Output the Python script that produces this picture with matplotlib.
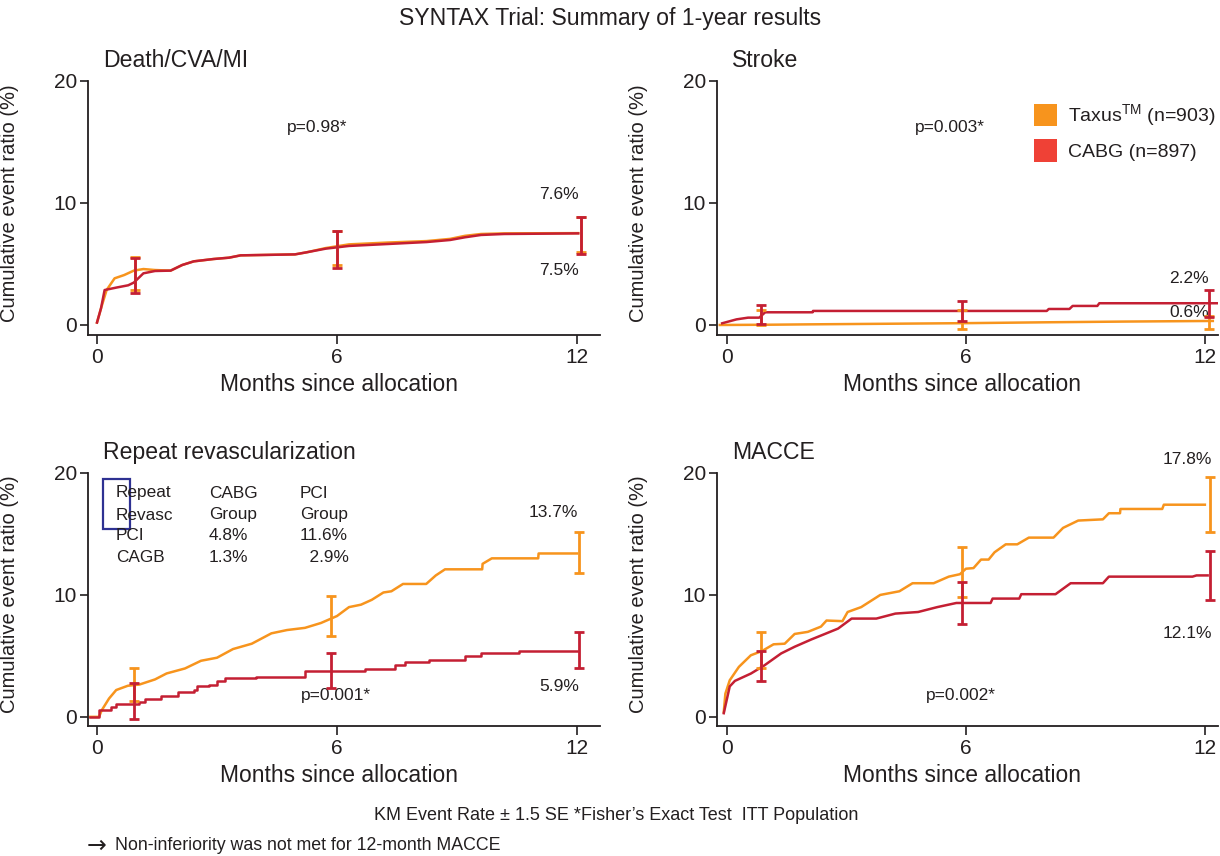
import numpy as np
import matplotlib
matplotlib.use("Agg")
from matplotlib import pyplot as plt
from matplotlib.patches import Patch, Rectangle

plt.rcParams['font.family'] = ['Liberation Sans', 'DejaVu Sans']

ORANGE = '#F7941D'
RED = '#C41F33'
RED_PATCH = '#EF4136'
TXT = '#231F20'

# ---- data ----
death_t_taxus = [0, 0.1, 0.24, 0.44, 0.68, 0.92, 1.16, 1.45, 1.84, 2.13, 2.42, 2.91, 3.3, 3.59, 4.95, 5.24, 5.72, 6.3, 7.27, 8.24, 8.83, 9.2, 9.6, 10.18, 12.03]
death_taxus = [0.2, 1.36, 2.86, 3.82, 4.09, 4.45, 4.58, 4.5, 4.45, 4.91, 5.21, 5.4, 5.51, 5.7, 5.78, 5.95, 6.3, 6.6, 6.75, 6.87, 7.05, 7.3, 7.45, 7.5, 7.52]
death_t_cabg = [0, 0.1, 0.19, 0.48, 0.78, 0.92, 1.16, 1.45, 1.84, 2.13, 2.42, 2.91, 3.3, 3.59, 4.95, 5.24, 5.72, 6.3, 7.27, 8.24, 8.83, 9.2, 9.6, 10.18, 12.03]
death_cabg = [0.2, 1.36, 2.86, 3.06, 3.25, 3.47, 4.23, 4.42, 4.45, 4.91, 5.21, 5.4, 5.51, 5.7, 5.78, 5.95, 6.25, 6.47, 6.63, 6.79, 6.96, 7.18, 7.37, 7.45, 7.5]

stroke_t_taxus = [-0.18, 1, 2, 4, 6, 8, 10, 12.2]
stroke_taxus = [0, 0.02, 0.05, 0.1, 0.15, 0.22, 0.28, 0.33]
stroke_t_cabg = [-0.12, 0.24, 0.53, 0.81, 0.96, 2.15, 2.16, 8.03, 8.08, 8.6, 8.68, 9.3, 9.35, 12.3]
stroke_cabg = [0.14, 0.46, 0.6, 0.6, 1.04, 1.04, 1.15, 1.15, 1.31, 1.31, 1.56, 1.56, 1.78, 1.78]

revasc_t_taxus = [-0.18, 0.05, 0.12, 0.3, 0.48, 0.77, 1.06, 1.45, 1.74, 2.2, 2.6, 3.0, 3.4, 3.87, 4.36, 4.75, 5.2, 5.6, 6.0, 6.3, 6.6, 6.87, 7.16, 7.36, 7.65, 8.23, 8.47, 8.7, 9.63, 9.64, 9.87, 11.03, 11.04, 12.0]
revasc_taxus = [0, 0, 0.55, 1.5, 2.2, 2.55, 2.65, 3.07, 3.56, 3.97, 4.6, 4.85, 5.56, 6.0, 6.85, 7.12, 7.3, 7.7, 8.27, 9.0, 9.2, 9.6, 10.2, 10.3, 10.9, 10.9, 11.6, 12.1, 12.1, 12.55, 13.0, 13.0, 13.4, 13.4]
revasc_t_cabg = [-0.18, 0.05, 0.34, 0.48, 1.06, 1.2, 1.6, 2.03, 2.42, 2.5, 2.8, 3.0, 3.2, 3.97, 5.2, 6.7, 7.45, 7.7, 8.3, 9.2, 9.6, 10.55, 12.0]
revasc_cabg = [0, 0.55, 0.8, 1.04, 1.23, 1.5, 1.7, 2.0, 2.2, 2.5, 2.65, 2.9, 3.15, 3.3, 3.78, 3.95, 4.25, 4.5, 4.7, 4.98, 5.2, 5.4, 5.4]

macce_t_taxus = [-0.08, -0.04, 0.07, 0.3, 0.6, 0.88, 1.17, 1.45, 1.7, 2.03, 2.36, 2.5, 2.9, 3.03, 3.37, 3.85, 4.33, 4.66, 5.19, 5.57, 5.85, 6.0, 6.19, 6.38, 6.57, 6.72, 7.0, 7.29, 7.58, 8.2, 8.44, 8.82, 9.44, 9.59, 9.87, 9.88, 10.93, 10.97, 12.0]
macce_taxus = [0.4, 1.9, 3.0, 4.1, 5.05, 5.4, 5.95, 6.0, 6.8, 6.97, 7.4, 7.9, 7.85, 8.6, 9.0, 10.0, 10.3, 10.96, 10.96, 11.5, 11.7, 12.15, 12.2, 12.9, 12.9, 13.5, 14.15, 14.15, 14.7, 14.7, 15.5, 16.1, 16.2, 16.7, 16.7, 17.05, 17.05, 17.4, 17.4]
macce_t_cabg = [-0.08, 0.07, 0.2, 0.6, 0.93, 1.36, 1.7, 2.12, 2.46, 2.79, 3.13, 3.75, 4.23, 4.8, 5.28, 5.76, 6.62, 6.67, 7.34, 7.39, 8.25, 8.63, 9.44, 9.59, 11.69, 11.79, 12.07]
macce_cabg = [0.3, 2.5, 2.95, 3.55, 4.2, 5.2, 5.75, 6.35, 6.8, 7.24, 8.06, 8.06, 8.47, 8.6, 9.0, 9.34, 9.34, 9.7, 9.7, 10.06, 10.06, 10.96, 10.96, 11.5, 11.5, 11.6, 11.6]

# error bars: x position, low, high (KM +- 1.5 SE)
death_err_x = [0.95, 6.0, 12.1]
death_err_taxus = ([2.9, 4.9, 6.0], [5.6, 7.7, 8.8])
death_err_cabg = ([2.6, 4.7, 5.8], [5.5, 7.7, 8.8])
stroke_err_x = [0.86, 5.9, 12.1]
stroke_err_taxus = ([0.0, -0.36, -0.36], [1.2, 1.23, 0.7])
stroke_err_cabg = ([0.1, 0.36, 0.63], [1.65, 1.97, 2.87])
revasc_err_x = [0.92, 5.86, 12.05]
revasc_err_taxus = ([1.3, 6.6, 11.8], [4.0, 9.95, 15.2])
revasc_err_cabg = ([-0.2, 2.4, 4.0], [2.8, 5.2, 7.0])
macce_err_x = [0.86, 5.9, 12.13]
macce_err_taxus = ([4.0, 9.85, 15.2], [7.0, 13.9, 19.67])
macce_err_cabg = ([2.95, 7.65, 9.56], [5.4, 11.07, 13.6])

panel_titles = ['Death/CVA/MI', 'Stroke', 'Repeat revascularization', 'MACCE']
p_values = ['p=0.98*', 'p=0.003*', 'p=0.001*', 'p=0.002*']
end_labels_taxus = ['7.6%', '0.6%', '13.7%', '17.8%']
end_labels_cabg = ['7.5%', '2.2%', '5.9%', '12.1%']
legend_labels = ['Taxus$^{\\mathregular{TM}}$ (n=903)', 'CABG (n=897)']
table_rows = [['Repeat', 'CABG', 'PCI'],
              ['Revasc', 'Group', 'Group'],
              ['PCI', '4.8%', '11.6%'],
              ['CAGB', '1.3%', '  2.9%']]

W, H = 1220, 856
fig = plt.figure(figsize=(W / 100, H / 100), dpi=100)


def make_ax(left, right, top, bottom, xlim, ylim):
    ax = fig.add_axes([left / W, 1 - bottom / H, (right - left) / W, (bottom - top) / H])
    ax.set_xlim(*xlim)
    ax.set_ylim(*ylim)
    for s in ['top', 'right']:
        ax.spines[s].set_visible(False)
    for s in ['left', 'bottom']:
        ax.spines[s].set_linewidth(1.3)
        ax.spines[s].set_color(TXT)
    ax.set_xticks([0, 6, 12])
    ax.set_yticks([0, 10, 20])
    ax.tick_params(axis='y', length=6, width=1.2, pad=2, labelsize=15, colors=TXT)
    ax.tick_params(axis='x', length=6.5, width=1.2, pad=3, labelsize=15, colors=TXT)
    ax.set_xlabel('Months since allocation', fontsize=16.5, color=TXT)
    ax.set_ylabel('Cumulative event ratio (%)', fontsize=14.5, color=TXT)
    wpx = right - left
    hpx = bottom - top
    ax.xaxis.set_label_coords(0.49, -38 / hpx)
    ax.yaxis.set_label_coords(-69 / wpx, 0.52)
    return ax


ax1 = make_ax(88, 600, 80.7, 335, (-0.225, 12.575), (-0.82, 20))
ax2 = make_ax(717, 1218, 80.7, 335, (-0.25, 12.33), (-0.82, 20))
ax3 = make_ax(88, 600, 473, 726, (-0.225, 12.575), (-0.75, 20))
ax4 = make_ax(717, 1218, 473, 726, (-0.25, 12.33), (-0.75, 20))
axes = [ax1, ax2, ax3, ax4]


def draw_err(ax, x, lohi, color):
    lo = np.array(lohi[0])
    hi = np.array(lohi[1])
    ax.errorbar(x, (lo + hi) / 2, yerr=(hi - lo) / 2, fmt='none', ecolor=color,
                elinewidth=2, capsize=3.5, capthick=2, zorder=4)


lw = 1.8
ax1.plot(death_t_taxus, death_taxus, color=ORANGE, lw=lw, zorder=2)
ax1.plot(death_t_cabg, death_cabg, color=RED, lw=lw, zorder=3)
draw_err(ax1, death_err_x, death_err_taxus, ORANGE)
draw_err(ax1, death_err_x, death_err_cabg, RED)

ax2.plot(stroke_t_taxus, stroke_taxus, color=ORANGE, lw=lw, zorder=2)
ax2.plot(stroke_t_cabg, stroke_cabg, color=RED, lw=lw, zorder=3)
draw_err(ax2, stroke_err_x, stroke_err_taxus, ORANGE)
draw_err(ax2, stroke_err_x, stroke_err_cabg, RED)

ax3.plot(revasc_t_taxus, revasc_taxus, color=ORANGE, lw=lw, zorder=2)
ax3.step(revasc_t_cabg, revasc_cabg, where='post', color=RED, lw=lw, zorder=3)
draw_err(ax3, revasc_err_x, revasc_err_taxus, ORANGE)
draw_err(ax3, revasc_err_x, revasc_err_cabg, RED)

ax4.plot(macce_t_taxus, macce_taxus, color=ORANGE, lw=lw, zorder=2)
ax4.plot(macce_t_cabg, macce_cabg, color=RED, lw=lw, zorder=3)
draw_err(ax4, macce_err_x, macce_err_taxus, ORANGE)
draw_err(ax4, macce_err_x, macce_err_cabg, RED)

# panel titles
for ax, t, wpx in zip(axes, panel_titles, [512, 501, 512, 501]):
    ax.text(15 / wpx, 1.08, t, transform=ax.transAxes, fontsize=16.6, color=TXT,
            ha='left', va='center')

# p values and end labels (data coords)
p_pos = [(5.5, 16.2), (5.6, 16.2), (5.98, 1.75), (5.87, 1.75)]
tax_pos = [(11.55, 10.7), (11.6, 1.0), (11.4, 16.8), (11.55, 21.1)]
cabg_pos = [(11.55, 4.5), (11.6, 3.8), (11.55, 2.5), (11.55, 6.8)]
for i, ax in enumerate(axes):
    ax.text(p_pos[i][0], p_pos[i][1], p_values[i], fontsize=12.5, color=TXT, ha='center', va='center')
    ax.text(tax_pos[i][0], tax_pos[i][1], end_labels_taxus[i], fontsize=12.5, color=TXT, ha='center', va='center')
    ax.text(cabg_pos[i][0], cabg_pos[i][1], end_labels_cabg[i], fontsize=12.5, color=TXT, ha='center', va='center')

# table in revascularization panel
col_x = [116, 209, 300]
row_y = [493, 515, 536, 557]
for r, row in enumerate(table_rows):
    for c, cell in enumerate(row):
        fig.text(col_x[c] / W, 1 - row_y[r] / H, cell, fontsize=12.4, color=TXT,
                 ha='left', va='center')
fig.add_artist(Rectangle((103 / W, 1 - 529 / H), 27 / W, 50 / H, transform=fig.transFigure,
                         fill=False, edgecolor='#2E3192', lw=1.6))

# legend
handles = [Patch(facecolor=ORANGE, edgecolor='none'), Patch(facecolor=RED_PATCH, edgecolor='none')]
ax2.legend(handles, legend_labels, loc='upper left', bbox_to_anchor=((1034 - 717) / 501, 1 - (102 - 80.7) / 254),
           frameon=False, fontsize=14, handlelength=1.2, handleheight=1.4, handletextpad=0.55,
           labelspacing=0.55, borderpad=0, borderaxespad=0, labelcolor=TXT)

fig.text(0.5, 1 - 18 / H, 'SYNTAX Trial: Summary of 1-year results', fontsize=16.6, color=TXT,
         ha='center', va='center')
fig.text(616 / W, 1 - 815 / H, 'KM Event Rate \u00b1 1.5 SE *Fisher\u2019s Exact Test  ITT Population',
         fontsize=13, color=TXT, ha='center', va='center')
fig.text(87 / W, 1 - 846 / H, '\u2192', family='DejaVu Sans', fontsize=17, color=TXT,
         ha='left', va='center')
fig.text(115 / W, 1 - 846 / H, 'Non-inferiority was not met for 12-month MACCE',
         fontsize=12.8, color=TXT, ha='left', va='center')

fig.savefig('out.png', dpi=100)
